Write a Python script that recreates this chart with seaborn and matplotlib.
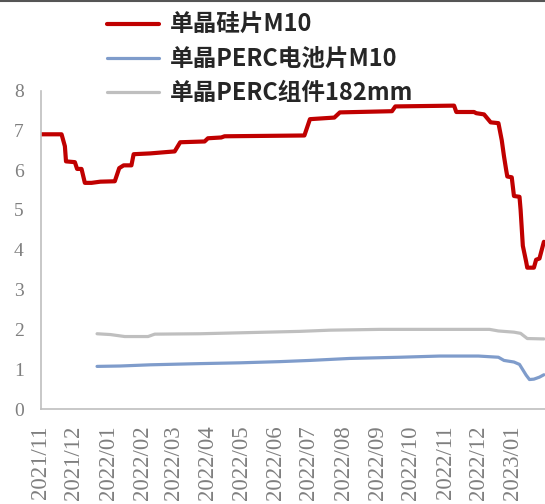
import pandas as pd
import matplotlib.pyplot as plt
import matplotlib.dates as mdates
import matplotlib.font_manager as fm
from matplotlib.lines import Line2D
import seaborn as sns

# ========== 数据 ==========
wafer_dates = ['2021-11-01', '2021-11-20', '2021-11-23', '2021-11-24', '2021-12-02', '2021-12-04',
               '2021-12-08', '2021-12-11', '2021-12-17', '2021-12-25', '2022-01-07', '2022-01-11',
               '2022-01-15', '2022-01-22', '2022-01-24', '2022-02-08', '2022-02-21', '2022-03-02',
               '2022-03-07', '2022-03-29', '2022-04-01', '2022-04-13', '2022-04-16', '2022-06-27',
               '2022-07-02', '2022-07-24', '2022-07-29', '2022-09-14', '2022-09-17', '2022-11-09',
               '2022-11-11', '2022-11-27', '2022-11-29', '2022-12-06', '2022-12-09', '2022-12-12',
               '2022-12-19', '2022-12-22', '2022-12-24', '2022-12-26', '2022-12-27', '2022-12-31',
               '2023-01-02', '2023-01-07', '2023-01-08', '2023-01-10', '2023-01-13', '2023-01-14',
               '2023-01-20', '2023-01-22', '2023-01-25', '2023-01-29']
wafer_price = [6.9, 6.9, 6.6, 6.22, 6.2, 6.03,
               6.03, 5.68, 5.68, 5.71, 5.72, 6.05,
               6.12, 6.12, 6.4, 6.42, 6.45, 6.47,
               6.7, 6.72, 6.8, 6.82, 6.85, 6.87,
               7.28, 7.32, 7.45, 7.48, 7.6, 7.62,
               7.46, 7.46, 7.43, 7.4, 7.3, 7.2,
               7.18, 6.75, 6.35, 6.0, 5.84, 5.82,
               5.35, 5.33, 5.0, 4.1, 3.7, 3.55,
               3.55, 3.75, 3.78, 4.2]

cell_dates = ['2021-12-22', '2022-01-12', '2022-02-08', '2022-03-25', '2022-04-30', '2022-06-05',
              '2022-07-02', '2022-08-07', '2022-09-21', '2022-10-27', '2022-12-01', '2022-12-19',
              '2022-12-24', '2023-01-02', '2023-01-07', '2023-01-13', '2023-01-16', '2023-01-20',
              '2023-01-25', '2023-01-29']
cell_price = [1.07, 1.08, 1.11, 1.14, 1.16, 1.19,
              1.22, 1.27, 1.30, 1.33, 1.33, 1.30,
              1.22, 1.18, 1.12, 0.85, 0.74, 0.75,
              0.80, 0.86]

module_dates = ['2021-12-22', '2022-01-03', '2022-01-16', '2022-02-06', '2022-02-12', '2022-03-25',
                '2022-05-09', '2022-06-23', '2022-07-20', '2022-09-03', '2022-12-11', '2022-12-19',
                '2023-01-02', '2023-01-08', '2023-01-14', '2023-01-29']
module_price = [1.89, 1.87, 1.82, 1.82, 1.88, 1.89,
                1.92, 1.95, 1.98, 2.0, 2.0, 1.96,
                1.93, 1.9, 1.77, 1.76]

series_names = ['单晶硅片M10', '单晶PERC电池片M10', '单晶PERC组件182mm']
series_colors = ['#C00000', '#7F9CCB', '#BFBFBF']
series_widths = [3.0, 2.3, 2.3]

# ========== 整理为长表 ==========
frames = []
for name, d, v in zip(series_names,
                      [wafer_dates, cell_dates, module_dates],
                      [wafer_price, cell_price, module_price]):
    frames.append(pd.DataFrame({'日期': pd.to_datetime(d), '价格': v, '品种': name}))
df = pd.concat(frames, ignore_index=True)

# ========== 字体：刻度用衬线体 ==========
available = {f.name for f in fm.fontManager.ttflist}
serif_font = next((f for f in ['Liberation Serif', 'Times New Roman', 'DejaVu Serif']
                   if f in available), 'serif')

# ========== 绘图 ==========
sns.set_style('white')
plt.rcParams['font.family'] = [serif_font, 'DejaVu Sans']

fig = plt.figure(figsize=(5.45, 5.04), dpi=100)
ax = fig.add_axes([40.5 / 545, (504 - 409) / 504, 1 - 40.5 / 545, (409 - 90.5) / 504])

sns.lineplot(data=df, x='日期', y='价格', hue='品种', hue_order=series_names,
             palette=dict(zip(series_names, series_colors)),
             estimator=None, legend=False, ax=ax)
for line, lw in zip(ax.lines, series_widths):
    line.set_linewidth(lw)
    line.set_solid_joinstyle('round')

ax.set_xlim(pd.Timestamp('2021-11-01'), pd.Timestamp('2023-01-30'))
ax.set_ylim(0, 8)
ax.set_yticks(range(0, 9))
ax.xaxis.set_major_locator(mdates.MonthLocator())
ax.xaxis.set_major_formatter(mdates.DateFormatter('%Y/%m'))
ax.set_xlabel('')
ax.set_ylabel('')

for side in ['top', 'right']:
    ax.spines[side].set_visible(False)
for side in ['left', 'bottom']:
    ax.spines[side].set_color('#BFBFBF')
    ax.spines[side].set_linewidth(1.2)

ax.tick_params(axis='both', direction='out', color='#BFBFBF', width=1.2,
               labelcolor='#7F7F7F')
ax.tick_params(axis='y', length=6, pad=6, labelsize=14)
ax.tick_params(axis='x', length=5, pad=7, rotation=90, labelsize=16.5)

handles = [Line2D([], [], color=c, linewidth=w) for c, w in zip(series_colors, series_widths)]
fig.legend(handles, series_names, loc='upper left', bbox_to_anchor=(107 / 545, 1 - 13 / 504),
           frameon=False, handlelength=2.2, handletextpad=0.45,
           labelspacing=0.42, borderpad=0, borderaxespad=0,
           prop={'family': ['Noto Sans CJK SC', 'DejaVu Sans'], 'size': 17, 'weight': 'bold'})

# 顶部细边框
fig.add_artist(Line2D([0, 1], [0.998, 0.998], color='#555555', linewidth=1.5,
                      transform=fig.transFigure))

fig.savefig('out.png', dpi=100)
